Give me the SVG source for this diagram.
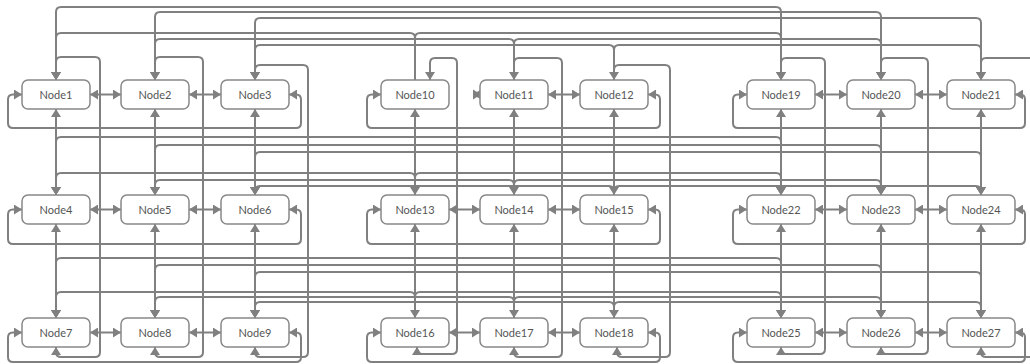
<svg xmlns="http://www.w3.org/2000/svg" width="1030" height="364" viewBox="0 0 1030 364">
<style>
.n rect{fill:#fff;stroke:#888;stroke-width:1.5}
.n text{font-family:Lato,"Liberation Sans",sans-serif;font-size:11px;fill:#555;text-anchor:middle;dominant-baseline:central}
.e path{fill:none;stroke:#808080;stroke-width:2}
.e .b{marker-start:url(#a);marker-end:url(#a)}
.e .t{marker-end:url(#a)}
.ah{fill:#808080}
</style>
<defs>
<marker id="a" viewBox="0 0 8 10" refX="8" refY="5" markerWidth="8" markerHeight="10" markerUnits="userSpaceOnUse" orient="auto-start-reverse"><path d="M0,0L8,5L0,10z" fill="#808080"/></marker>
</defs>
<rect width="1030" height="364" fill="#fff"/>
<g id="connectors" class="e">
<!-- row edges -->
<path class="b" d="M90,94.5H121"/><path class="b" d="M189,94.5H221"/>
<path class="b" d="M22,94.5H13Q8,94.5 8,99.5V123Q8,128 13,128H296Q301,128 301,123V99.5Q301,94.5 296,94.5H289"/>
<path class="b" d="M548,94.5H580"/>
<path class="b" d="M381,94.5H372Q367,94.5 367,99.5V123Q367,128 372,128H655Q660,128 660,123V99.5Q660,94.5 655,94.5H648"/>
<path class="b" d="M815,94.5H847"/><path class="b" d="M915,94.5H947"/>
<path class="b" d="M747,94.5H738Q733,94.5 733,99.5V123Q733,128 738,128H1020Q1025,128 1025,123V99.5Q1025,94.5 1020,94.5H1015"/>
<path class="b" d="M90,209.5H121"/><path class="b" d="M189,209.5H221"/>
<path class="b" d="M22,209.5H13Q8,209.5 8,214.5V239Q8,244 13,244H296Q301,244 301,239V214.5Q301,209.5 296,209.5H289"/>
<path class="b" d="M449,209.5H480"/><path class="b" d="M548,209.5H580"/>
<path class="b" d="M381,209.5H372Q367,209.5 367,214.5V239Q367,244 372,244H655Q660,244 660,239V214.5Q660,209.5 655,209.5H648"/>
<path class="b" d="M815,209.5H847"/><path class="b" d="M915,209.5H947"/>
<path class="b" d="M747,209.5H738Q733,209.5 733,214.5V239Q733,244 738,244H1020Q1025,244 1025,239V214.5Q1025,209.5 1020,209.5H1015"/>
<path class="b" d="M90,332.5H121"/><path class="b" d="M189,332.5H221"/>
<path class="b" d="M22,332.5H13Q8,332.5 8,337.5V357Q8,362 13,362H296Q301,362 301,357V337.5Q301,332.5 296,332.5H289"/>
<path class="b" d="M449,332.5H480"/><path class="b" d="M548,332.5H580"/>
<path class="b" d="M381,332.5H372Q367,332.5 367,337.5V357Q367,362 372,362H655Q660,362 660,357V337.5Q660,332.5 655,332.5H648"/>
<path class="b" d="M815,332.5H847"/><path class="b" d="M915,332.5H947"/>
<path class="b" d="M747,332.5H738Q733,332.5 733,337.5V357Q733,362 738,362H1020Q1025,362 1025,357V337.5Q1025,332.5 1020,332.5H1015"/>
<polygon class="ah" points="473,89.5 481,94.5 473,99.5"/><polygon class="ah" points="481,89.5 473,94.5 481,99.5"/>
<!-- column edges -->
<path class="b" d="M56,109V195"/><path class="b" d="M56,224V318"/>
<path class="b" d="M155,109V195"/><path class="b" d="M155,224V318"/>
<path class="b" d="M255,109V195"/><path class="b" d="M255,224V318"/>
<path class="b" d="M415,109V195"/><path class="b" d="M415,224V318"/>
<path class="b" d="M514,109V195"/><path class="b" d="M514,224V318"/>
<path class="b" d="M614,109V195"/><path class="b" d="M614,224V318"/>
<path class="b" d="M781,109V195"/><path class="b" d="M781,224V318"/>
<path class="b" d="M881,109V195"/><path class="b" d="M881,224V318"/>
<path class="b" d="M981,109V195"/><path class="b" d="M981,224V318"/>
<!-- column wraps -->
<path class="b" d="M56,80V62Q56,57 61,57H95Q100,57 100,62V352Q100,357 95,357H61Q56,357 56,352V347"/>
<path class="b" d="M155,80V62Q155,57 160,57H198Q203,57 203,62V352Q203,357 198,357H160Q155,357 155,352V347"/>
<path class="b" d="M255,80V70Q255,65 260,65H303Q308,65 308,70V352Q308,357 303,357H260Q255,357 255,352V347"/>
<path class="b" d="M430,80V63Q430,58 435,58H452Q457,58 457,63V349Q457,354 452,354H422Q417,354 417,349V347"/>
<path class="b" d="M514,80V63Q514,58 519,58H557Q562,58 562,63V352Q562,357 557,357H519Q514,357 514,352V347"/>
<path class="b" d="M614,80V70Q614,65 619,65H665Q670,65 670,70V352Q670,357 665,357H622Q617,357 617,352V347"/>
<path class="b" d="M781,80V63Q781,58 786,58H820Q825,58 825,63V349Q825,354 820,354H786Q781,354 781,349V347"/>
<path class="b" d="M881,80V63Q881,58 886,58H923Q928,58 928,63V349Q928,354 923,354H886Q881,354 881,349V347"/>
<path class="b" d="M981,80V63Q981,58 986,58H1040Q1045,58 1045,63V352Q1045,357 1040,357H986Q981,357 981,352V347"/>
<!-- group edges row 1 -->
<path class="b" d="M56,80V12Q56,7 61,7H776Q781,7 781,12V80"/>
<path class="t" d="M415,80V38Q415,33 410,33H61Q56,33 56,38V80"/>
<path class="t" d="M415,80V38Q415,33 420,33H776Q781,33 781,38V80"/>
<path class="b" d="M155,80V17Q155,12 160,12H876Q881,12 881,17V80"/>
<path class="t" d="M514,80V44Q514,39 509,39H160Q155,39 155,44V80"/>
<path class="t" d="M514,80V44Q514,39 519,39H876Q881,39 881,44V80"/>
<path class="b" d="M255,80V23Q255,18 260,18H976Q981,18 981,23V80"/>
<path class="t" d="M614,80V50Q614,45 609,45H260Q255,45 255,50V80"/>
<path class="t" d="M614,80V50Q614,45 619,45H976Q981,45 981,50V80"/>
<!-- group edges row 2 -->
<path class="b" d="M56,195V142Q56,137 61,137H776Q781,137 781,142V195"/>
<path class="t" d="M415,195V178Q415,173 410,173H61Q56,173 56,178V195"/>
<path class="t" d="M415,195V178Q415,173 420,173H776Q781,173 781,178V195"/>
<path class="b" d="M155,195V150Q155,145 160,145H876Q881,145 881,150V195"/>
<path class="t" d="M514,195V185Q514,180 509,180H160Q155,180 155,185V195"/>
<path class="t" d="M514,195V185Q514,180 519,180H876Q881,180 881,185V195"/>
<path class="b" d="M255,195V157Q255,152 260,152H976Q981,152 981,157V195"/>
<path class="t" d="M614,195V191Q614,186 609,186H260Q255,186 255,191V195"/>
<path class="t" d="M614,195V191Q614,186 619,186H976Q981,186 981,191V195"/>
<!-- group edges row 3 -->
<path class="b" d="M56,318V263Q56,258 61,258H776Q781,258 781,263V318"/>
<path class="t" d="M415,318V297Q415,292 410,292H61Q56,292 56,297V318"/>
<path class="t" d="M415,318V297Q415,292 420,292H776Q781,292 781,297V318"/>
<path class="b" d="M155,318V270Q155,265 160,265H876Q881,265 881,270V318"/>
<path class="t" d="M514,318V302Q514,297 509,297H160Q155,297 155,302V318"/>
<path class="t" d="M514,318V302Q514,297 519,297H876Q881,297 881,302V318"/>
<path class="b" d="M255,318V277Q255,272 260,272H976Q981,272 981,277V318"/>
<path class="t" d="M614,318V307Q614,302 609,302H260Q255,302 255,307V318"/>
<path class="t" d="M614,318V307Q614,302 619,302H976Q981,302 981,307V318"/>
</g>
<g id="node1" class="n"><rect x="22" y="80" width="68" height="29" rx="6"/><text x="56" y="94.5">Node1</text></g>
<g id="node2" class="n"><rect x="121" y="80" width="68" height="29" rx="6"/><text x="155" y="94.5">Node2</text></g>
<g id="node3" class="n"><rect x="221" y="80" width="68" height="29" rx="6"/><text x="255" y="94.5">Node3</text></g>
<g id="node4" class="n"><rect x="22" y="195" width="68" height="29" rx="6"/><text x="56" y="209.5">Node4</text></g>
<g id="node5" class="n"><rect x="121" y="195" width="68" height="29" rx="6"/><text x="155" y="209.5">Node5</text></g>
<g id="node6" class="n"><rect x="221" y="195" width="68" height="29" rx="6"/><text x="255" y="209.5">Node6</text></g>
<g id="node7" class="n"><rect x="22" y="318" width="68" height="29" rx="6"/><text x="56" y="332.5">Node7</text></g>
<g id="node8" class="n"><rect x="121" y="318" width="68" height="29" rx="6"/><text x="155" y="332.5">Node8</text></g>
<g id="node9" class="n"><rect x="221" y="318" width="68" height="29" rx="6"/><text x="255" y="332.5">Node9</text></g>
<g id="node10" class="n"><rect x="381" y="80" width="68" height="29" rx="6"/><text x="415" y="94.5">Node10</text></g>
<g id="node11" class="n"><rect x="480" y="80" width="68" height="29" rx="6"/><text x="514" y="94.5">Node11</text></g>
<g id="node12" class="n"><rect x="580" y="80" width="68" height="29" rx="6"/><text x="614" y="94.5">Node12</text></g>
<g id="node13" class="n"><rect x="381" y="195" width="68" height="29" rx="6"/><text x="415" y="209.5">Node13</text></g>
<g id="node14" class="n"><rect x="480" y="195" width="68" height="29" rx="6"/><text x="514" y="209.5">Node14</text></g>
<g id="node15" class="n"><rect x="580" y="195" width="68" height="29" rx="6"/><text x="614" y="209.5">Node15</text></g>
<g id="node16" class="n"><rect x="381" y="318" width="68" height="29" rx="6"/><text x="415" y="332.5">Node16</text></g>
<g id="node17" class="n"><rect x="480" y="318" width="68" height="29" rx="6"/><text x="514" y="332.5">Node17</text></g>
<g id="node18" class="n"><rect x="580" y="318" width="68" height="29" rx="6"/><text x="614" y="332.5">Node18</text></g>
<g id="node19" class="n"><rect x="747" y="80" width="68" height="29" rx="6"/><text x="781" y="94.5">Node19</text></g>
<g id="node20" class="n"><rect x="847" y="80" width="68" height="29" rx="6"/><text x="881" y="94.5">Node20</text></g>
<g id="node21" class="n"><rect x="947" y="80" width="68" height="29" rx="6"/><text x="981" y="94.5">Node21</text></g>
<g id="node22" class="n"><rect x="747" y="195" width="68" height="29" rx="6"/><text x="781" y="209.5">Node22</text></g>
<g id="node23" class="n"><rect x="847" y="195" width="68" height="29" rx="6"/><text x="881" y="209.5">Node23</text></g>
<g id="node24" class="n"><rect x="947" y="195" width="68" height="29" rx="6"/><text x="981" y="209.5">Node24</text></g>
<g id="node25" class="n"><rect x="747" y="318" width="68" height="29" rx="6"/><text x="781" y="332.5">Node25</text></g>
<g id="node26" class="n"><rect x="847" y="318" width="68" height="29" rx="6"/><text x="881" y="332.5">Node26</text></g>
<g id="node27" class="n"><rect x="947" y="318" width="68" height="29" rx="6"/><text x="981" y="332.5">Node27</text></g>
</svg>
